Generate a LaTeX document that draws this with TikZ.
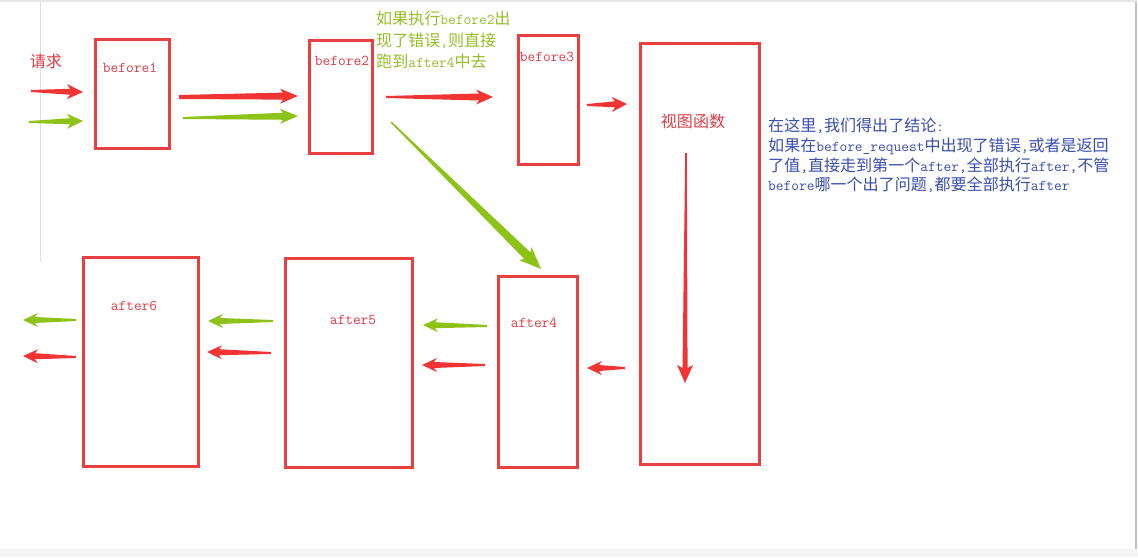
\documentclass[tikz,border=0pt]{standalone}
\usepackage{fontspec}
\usetikzlibrary{calc}
\newfontfamily\cjk[Scale=1.07]{Noto Sans CJK SC}
\newcommand\zh[1]{{\cjk #1}}
\definecolor{boxred}{RGB}{232,64,64}
\definecolor{arrred}{RGB}{240,52,52}
\definecolor{arrgreen}{RGB}{141,194,24}
\definecolor{txtred}{RGB}{222,60,70}
\definecolor{txtgreen}{RGB}{150,190,40}
\definecolor{txtblue}{RGB}{58,78,172}
% tapered fat arrow: #1 colour, #2 start, #3 end, #4 head length, #5 head half width, #6 tail half width, #7 neck half width
\newcommand\tarrow[7]{%
  \coordinate (tH) at ($(#3)!#4!(#2)$);
  \coordinate (tN) at ($(#3)!#4-3pt!(#2)$);
  \fill[#1] ($(#2)!#6!90:(#3)$) -- ($(tN)!#7!90:(#3)$) -- ($(tH)!#5!90:(#3)$) -- (#3)
     -- ($(tH)!#5!-90:(#3)$) -- ($(tN)!#7!-90:(#3)$) -- ($(#2)!#6!-90:(#3)$) -- cycle;}
\begin{document}
\begin{tikzpicture}[x=1pt,y=-1pt,
  box/.style={draw=boxred,line width=3pt,anchor=north west,inner sep=0pt},
  lbl/.style={text=txtred,font=\fontsize{15}{18}\ttfamily\selectfont,inner sep=0pt},
  note/.style={anchor=north west,align=left,inner sep=0pt}]
\useasboundingbox (0,0) rectangle (1138,557);
\fill[white] (0,0) rectangle (1138,557);
% screenshot frame
\fill[black!4] (0,549) rectangle (1138,557);
\draw[black!12,line width=1pt] (40,0) -- (40,262);
\draw[black!25,line width=1.5pt] (1136,0) -- (1136,549);
\fill[black!10] (0,0) rectangle (1138,2);
% boxes
\node[box,minimum width=74pt,minimum height=109pt] (b1) at (94,38) {};
\node[box,minimum width=63pt,minimum height=113pt] (b2) at (308,39) {};
\node[box,minimum width=60pt,minimum height=129pt] (b3) at (517,34) {};
\node[box,minimum width=119pt,minimum height=421pt] (vf) at (639,42) {};
\node[box,minimum width=79pt,minimum height=191pt] (a4) at (497,275) {};
\node[box,minimum width=127pt,minimum height=209pt] (a5) at (284,257) {};
\node[box,minimum width=115pt,minimum height=209pt] (a6) at (82,256) {};
% labels
\node[lbl] (b1t) at (130,68) {before1};
\node[lbl] (b2t) at (342,61) {before2};
\node[lbl] (b3t) at (547,57) {before3};
\node[lbl] (vft) at (693,121) {\zh{视图函数}};
\node[lbl] (a4t) at (534,323) {after4};
\node[lbl] (a5t) at (353,320) {after5};
\node[lbl] (a6t) at (134,306) {after6};
\node[lbl] (req) at (46,61) {\zh{请求}};
% notes
\node[note,text=txtgreen,font=\fontsize{15}{21.5}\ttfamily\selectfont] (gnote) at (376,11)
  {\zh{如果执行}before2\zh{出}\\ \zh{现了错误},\zh{则直接}\\ \zh{跑到}after4\zh{中去}};
\node[note,text=txtblue,font=\fontsize{15}{19.7}\ttfamily\selectfont] (bnote) at (768,118)
  {\zh{在这里},\zh{我们得出了结论}:\\
   \zh{如果在}before\_request\zh{中出现了错误},\zh{或者是返回}\\
   \zh{了值},\zh{直接走到第一个}after,\zh{全部执行}after,\zh{不管}\\
   before\zh{哪一个出了问题},\zh{都要全部执行}after};
% arrow end points
\coordinate (r1s) at (31,91);   \coordinate (r1e) at (83,92);
\coordinate (g1s) at (29,122);  \coordinate (g1e) at (83,121);
\coordinate (r2s) at (179,97);  \coordinate (r2e) at (298,96);
\coordinate (g2s) at (183,118); \coordinate (g2e) at (298,116);
\coordinate (r3s) at (386,97);  \coordinate (r3e) at (493,97);
\coordinate (r4s) at (587,105); \coordinate (r4e) at (627,104);
\coordinate (gds) at (391,122); \coordinate (gde) at (541,269);
\coordinate (rvs) at (686,153); \coordinate (rve) at (685,383);
\coordinate (r5s) at (625,368); \coordinate (r5e) at (587,368);
\coordinate (g5s) at (487,326); \coordinate (g5e) at (423,325);
\coordinate (r6s) at (485,365); \coordinate (r6e) at (422,365);
\coordinate (g7s) at (273,321); \coordinate (g7e) at (208,321);
\coordinate (r7s) at (271,353); \coordinate (r7e) at (207,352);
\coordinate (g8s) at (76,320);  \coordinate (g8e) at (23,320);
\coordinate (r8s) at (76,357);  \coordinate (r8e) at (23,356);
% arrows
\tarrow{arrred}{r1s}{r1e}{16pt}{7.5pt}{1pt}{3pt}
\tarrow{arrgreen}{g1s}{g1e}{16pt}{7.5pt}{1pt}{3pt}
\tarrow{arrred}{r2s}{r2e}{18pt}{7.5pt}{2pt}{3.5pt}
\tarrow{arrgreen}{g2s}{g2e}{18pt}{7.5pt}{1pt}{3.5pt}
\tarrow{arrred}{r3s}{r3e}{17pt}{7.5pt}{1pt}{3.5pt}
\tarrow{arrred}{r4s}{r4e}{15pt}{7.5pt}{1pt}{3pt}
\tarrow{arrgreen}{gds}{gde}{22pt}{9pt}{0.7pt}{4.5pt}
\tarrow{arrred}{rvs}{rve}{18pt}{8pt}{0.8pt}{2.5pt}
\tarrow{arrred}{r5s}{r5e}{15pt}{7pt}{1pt}{3pt}
\tarrow{arrgreen}{g5s}{g5e}{15pt}{7pt}{1pt}{3pt}
\tarrow{arrred}{r6s}{r6e}{15pt}{7pt}{1pt}{3pt}
\tarrow{arrgreen}{g7s}{g7e}{15pt}{7pt}{1pt}{3pt}
\tarrow{arrred}{r7s}{r7e}{15pt}{7pt}{1pt}{3pt}
\tarrow{arrgreen}{g8s}{g8e}{15pt}{7pt}{1pt}{3pt}
\tarrow{arrred}{r8s}{r8e}{15pt}{7pt}{1pt}{3pt}
\end{tikzpicture}
\end{document}
